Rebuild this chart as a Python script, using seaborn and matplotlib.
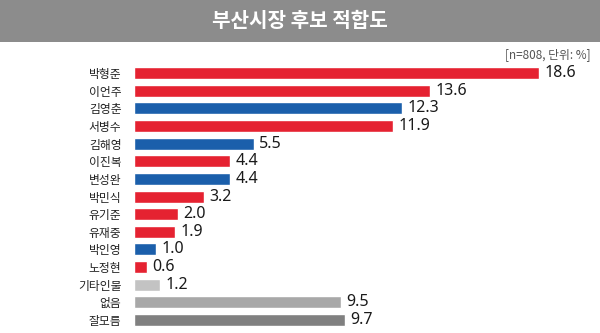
import matplotlib
matplotlib.use("Agg")
import matplotlib.pyplot as plt
import seaborn as sns
import pandas as pd

names = ["박형준", "이언주", "김영춘", "서병수", "김해영", "이진복", "변성완", "박민식",
         "유기준", "유재중", "박인영", "노정현", "기타인물", "없음", "잘모름"]
values = [18.6, 13.6, 12.3, 11.9, 5.5, 4.4, 4.4, 3.2, 2.0, 1.9, 1.0, 0.6, 1.2, 9.5, 9.7]
groups = ["r", "r", "b", "r", "b", "r", "b", "r", "r", "r", "b", "r", "o", "n", "d"]
title = "부산시장 후보 적합도"
note = "[n=808, 단위: %]"

color_map = {"r": "#e52231", "b": "#1b5fab", "o": "#c3c3c3", "n": "#a8a8a8", "d": "#808080"}

df = pd.DataFrame({"name": names, "value": values, "group": groups})

sns.set_theme(style="white")
plt.rcParams["font.family"] = ["Noto Sans CJK KR", "DejaVu Sans"]

fig = plt.figure(figsize=(6, 3.33), dpi=100)
fig.patch.set_facecolor("white")

# title bar
fig.patches.append(plt.Rectangle((0, 0.874), 1, 0.126, transform=fig.transFigure,
                                 facecolor="#8c8c8c", edgecolor="none", zorder=0))
fig.text(0.5, 0.937, title, ha="center", va="center", color="white",
         fontsize=14.5, fontweight="bold")
fig.text(0.985, 0.835, note, ha="right", va="center", color="#555555", fontsize=8.5)

ax = fig.add_axes([0.2233, 0.0126, 0.762, 0.7946])
sns.barplot(data=df, x="value", y="name", hue="group", palette=color_map,
            dodge=False, legend=False, width=0.68, ax=ax, saturation=1)
ax.set_xlim(0, 21)
ax.set_ylim(len(names) - 0.5, -0.5)
ax.set_xlabel("")
ax.set_ylabel("")
ax.set_xticks([])
for s in ax.spines.values():
    s.set_visible(False)
ax.set_facecolor("none")
ax.tick_params(axis="y", length=0, pad=9, labelsize=8.5, labelcolor="#222222")
for lbl in ax.get_yticklabels():
    lbl.set_fontweight("medium")
for i, v in enumerate(values):
    ax.text(v + 0.25, i, f"{v:.1f}", va="center", ha="left", fontsize=11.5,
            color="#1a1a1a", family=["Noto Sans", "DejaVu Sans"])

fig.savefig("out.png", dpi=100, facecolor="white")
